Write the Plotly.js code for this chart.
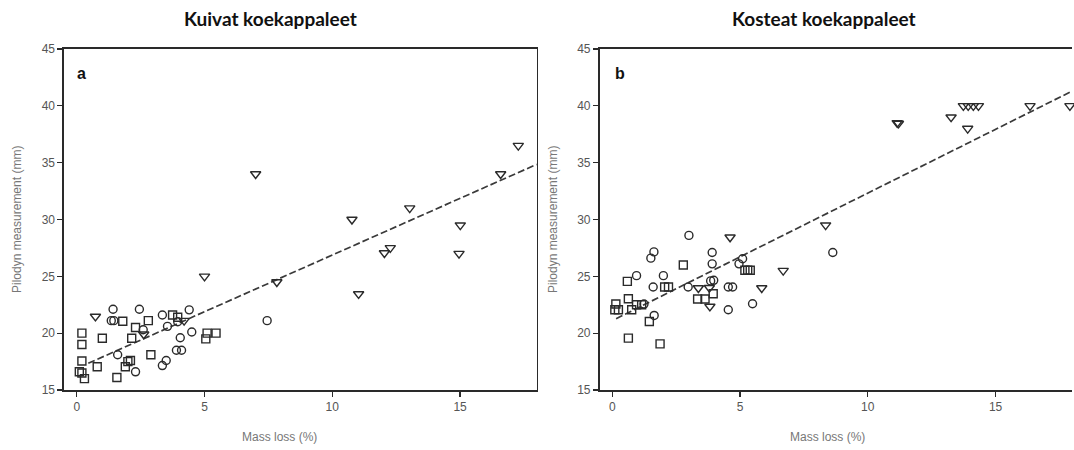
<!DOCTYPE html>
<html>
<head>
<meta charset="utf-8">
<script src="https://cdn.plot.ly/plotly-3.0.1.min.js"></script>
<style>
  html, body { margin: 0; padding: 0; background: #fff; }
  #chart { width: 1074px; height: 450px; }
</style>
</head>
<body>
<div id="chart"></div>
<script>
// Panel a: dry specimens (Kuivat koekappaleet)
const aCircleX = [1.42, 2.45, 1.35, 1.45, 3.35, 4.4, 2.6, 3.55, 3.95, 4.05, 4.5, 3.9, 4.1, 1.6, 2.3, 3.5, 3.35, 7.45];
const aCircleY = [22.1, 22.1, 21.1, 21.1, 21.6, 22.05, 20.3, 20.6, 21.0, 19.6, 20.1, 18.5, 18.5, 18.1, 16.6, 17.6, 17.15, 21.1];
const aSquareX = [0.2, 0.2, 0.2, 0.1, 0.2, 0.3, 1.0, 0.8, 1.8, 2.3, 2.8, 2.15, 3.75, 3.95, 2.0, 2.1, 1.9, 1.57, 2.9, 5.1, 5.45, 5.05];
const aSquareY = [20.0, 19.0, 17.55, 16.6, 16.5, 16.0, 19.55, 17.05, 21.05, 20.5, 21.1, 19.55, 21.6, 21.4, 17.5, 17.6, 17.05, 16.1, 18.1, 20.0, 20.0, 19.5];
const aTriX = [0.73, 2.62, 4.2, 5.0, 7.0, 7.83, 10.77, 11.03, 12.04, 12.27, 13.03, 14.96, 15.01, 16.59, 17.28];
const aTriY = [21.47, 19.9, 21.1, 25.0, 34.0, 24.5, 30.0, 23.45, 27.05, 27.5, 31.0, 27.0, 29.5, 34.0, 36.5];
const aFitX = [0.45, 18];
const aFitY = [17.35, 34.85];

// Panel b: moist specimens (Kosteat koekappaleet)
const bCircleX = [3.0, 1.63, 1.51, 3.91, 3.91, 5.1, 4.96, 0.95, 2.0, 1.6, 2.97, 3.85, 3.97, 4.54, 4.71, 4.54, 5.49, 1.24, 1.64, 8.63];
const bCircleY = [28.6, 27.15, 26.6, 27.1, 26.1, 26.55, 26.1, 25.06, 25.06, 24.06, 24.06, 24.6, 24.65, 24.06, 24.06, 22.06, 22.59, 22.56, 21.56, 27.1];
const bSquareX = [2.78, 5.19, 5.3, 5.4, 0.59, 2.05, 2.2, 3.95, 3.34, 3.63, 0.14, 0.1, 0.24, 0.63, 0.76, 0.95, 1.15, 1.45, 0.63, 1.87];
const bSquareY = [26.0, 25.53, 25.53, 25.53, 24.56, 24.06, 24.06, 23.47, 23.0, 23.0, 22.56, 22.06, 22.06, 23.03, 22.06, 22.5, 22.5, 21.03, 19.56, 19.06];
const bTriX = [3.37, 3.8, 3.82, 4.61, 5.85, 6.69, 8.35, 11.15, 11.2, 13.26, 13.91, 13.74, 13.93, 14.13, 14.33, 16.35, 17.91];
const bTriY = [23.97, 24.0, 22.35, 28.44, 23.97, 25.5, 29.5, 38.5, 38.45, 39.0, 38.0, 40, 40, 40, 40, 40, 40];
const bFitX = [0.15, 18];
const bFitY = [21.27, 41.3];

const xTicks = [0, 5, 10, 15];
const yTicks = [15, 20, 25, 30, 35, 40, 45];

const W = 1074, H = 450;
const fx = v => v / W;
const fy = v => 1 - v / H;

const ink = '#2a2a2a';
// Open symbols take their stroke colour from marker.color
function pts(x, y, symbol, size, xa, ya) {
  return {
    x: x, y: y, xaxis: xa, yaxis: ya, type: 'scatter', mode: 'markers',
    cliponaxis: false, hoverinfo: 'x+y',
    marker: { symbol: symbol, size: size, color: ink, line: { width: 1.4 } }
  };
}
function fit(x, y, xa, ya) {
  return {
    x: x, y: y, xaxis: xa, yaxis: ya, type: 'scatter', mode: 'lines',
    line: { color: '#3a3a3a', width: 1.7, dash: '7px,3px' }, hoverinfo: 'skip'
  };
}

const data = [
  fit(aFitX, aFitY, 'x', 'y'),
  pts(aCircleX, aCircleY, 'circle-open', 8, 'x', 'y'),
  pts(aSquareX, aSquareY, 'square-open', 8, 'x', 'y'),
  pts(aTriX, aTriY, 'triangle-down-open', 9, 'x', 'y'),
  fit(bFitX, bFitY, 'x2', 'y2'),
  pts(bCircleX, bCircleY, 'circle-open', 8, 'x2', 'y2'),
  pts(bSquareX, bSquareY, 'square-open', 8, 'x2', 'y2'),
  pts(bTriX, bTriY, 'triangle-down-open', 9, 'x2', 'y2')
];

const tickFont = { family: 'Liberation Sans, Arial, sans-serif', size: 12, color: '#555' };
function xAxis(domain, mirror) {
  return {
    domain: domain, range: [-0.5, 18], tickvals: xTicks, ticks: 'outside', ticklen: 5,
    tickcolor: ink, tickwidth: 1.2, showline: true, linecolor: ink, linewidth: 1.6,
    mirror: mirror, showgrid: false, zeroline: false, tickfont: tickFont, fixedrange: true
  };
}
function yAxis(anchor, mirror) {
  return {
    anchor: anchor, domain: [fy(390), fy(49)], range: [15, 45], tickvals: yTicks,
    ticks: 'outside', ticklen: 5, tickcolor: ink, tickwidth: 1.2, showline: true,
    linecolor: ink, linewidth: 1.6, mirror: mirror, showgrid: false, zeroline: false,
    tickfont: tickFont, fixedrange: true
  };
}

const titleFont = { family: 'Lato, Open Sans, sans-serif', size: 19, color: '#111' };
const axisTitleFont = { family: 'Liberation Sans, Arial, sans-serif', size: 12, color: '#777' };
const labelFont = { family: 'Liberation Sans, Arial, sans-serif', size: 16, color: '#111' };

function note(text, x, y, font, extra) {
  return Object.assign({
    text: text, xref: 'paper', yref: 'paper', x: fx(x), y: fy(y),
    xanchor: 'center', yanchor: 'middle', showarrow: false, font: font
  }, extra || {});
}

const layout = {
  width: W, height: H,
  margin: { l: 0, r: 0, t: 0, b: 0 },
  paper_bgcolor: '#fff', plot_bgcolor: '#fff',
  showlegend: false,
  xaxis: xAxis([fx(64), fx(536.7)], true),
  yaxis: yAxis('x', true),
  xaxis2: Object.assign(xAxis([fx(599.5), fx(1072.2)], true), { anchor: 'y2' }),
  yaxis2: yAxis('x2', false),
  annotations: [
    note('<b>Kuivat koekappaleet</b>', 270, 18, titleFont),
    note('<b>Kosteat koekappaleet</b>', 824, 18, titleFont),
    note('<b>a</b>', 81, 73, labelFont),
    note('<b>b</b>', 620, 73, labelFont),
    note('Pilodyn measurement (mm)', 17, 220, axisTitleFont, { textangle: -90 }),
    note('Pilodyn measurement (mm)', 553, 220, axisTitleFont, { textangle: -90 }),
    note('Mass loss (%)', 279, 437, axisTitleFont),
    note('Mass loss (%)', 827, 437, axisTitleFont)
  ]
};

Plotly.newPlot('chart', data, layout, { displayModeBar: false, staticPlot: true });
</script>
</body>
</html>
